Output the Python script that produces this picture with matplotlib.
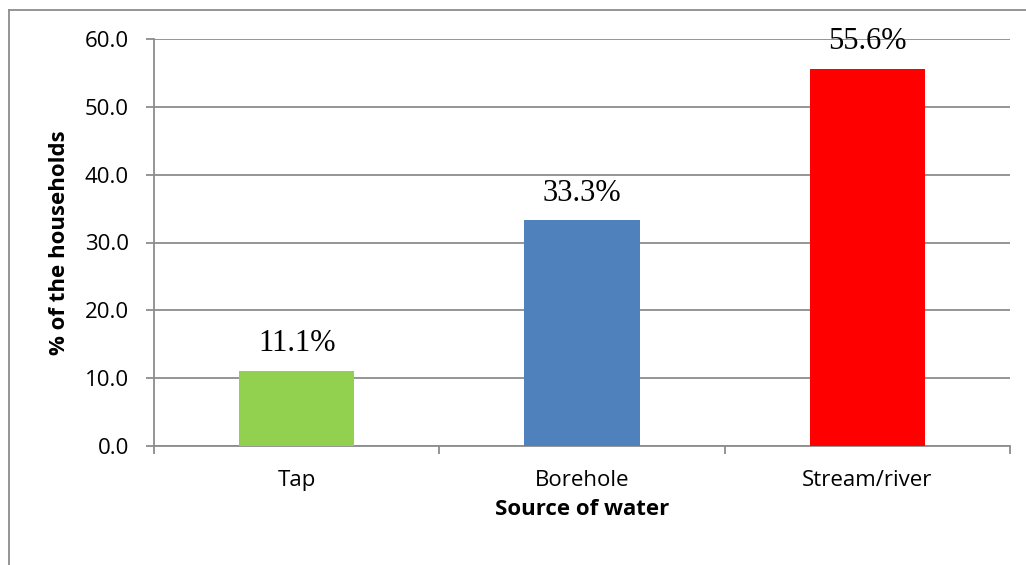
import matplotlib
matplotlib.use("Agg")
import matplotlib.pyplot as plt
from matplotlib.lines import Line2D
from matplotlib.ticker import FixedLocator, NullFormatter

categories = ["Tap", "Borehole", "Stream/river"]
values = [11.1, 33.3, 55.6]
colors = ["#92D050", "#4F81BD", "#FF0000"]
yticks = [0, 10, 20, 30, 40, 50, 60]

GRAY = "#8C8C8C"
SANS = ["Open Sans", "DejaVu Sans"]
SERIF = ["Liberation Serif", "DejaVu Serif"]

fig = plt.figure(figsize=(10.26, 5.65), dpi=100)
W, H = 1026, 565
ax = fig.add_axes([154 / W, 1 - 446 / H, (1010 - 154) / W, (446 - 39) / H])

x = list(range(len(categories)))
ax.bar(x, values, width=0.405, color=colors, zorder=3)

for xi, v in zip(x, values):
    ax.annotate(f"{v:.1f}%", (xi, v), xytext=(0, 9), textcoords="offset points",
                ha="center", va="bottom", fontsize=22, family=SERIF, color="black",
                zorder=4)

ax.set_xlim(-0.5, len(categories) - 0.5)
ax.set_ylim(0, 60)
ax.set_yticks(yticks)
ax.set_yticklabels([f"{t:.1f}" for t in yticks], family=SANS, fontsize=16)
ax.yaxis.grid(True, color=GRAY, linewidth=1.3, zorder=0)

ax.set_xticks(x)
ax.set_xticklabels(categories, family=SANS, fontsize=16)
ax.tick_params(axis="x", which="major", length=0, pad=17)
ax.xaxis.set_minor_locator(FixedLocator([-0.5, 0.5, 1.5, 2.5]))
ax.xaxis.set_minor_formatter(NullFormatter())
ax.tick_params(axis="x", which="minor", length=6, width=1.3, color=GRAY, direction="out")
ax.tick_params(axis="y", length=6, width=1.3, color=GRAY, direction="out", pad=12)

for s in ["top", "right"]:
    ax.spines[s].set_visible(False)
for s in ["left", "bottom"]:
    ax.spines[s].set_color(GRAY)
    ax.spines[s].set_linewidth(1.3)
ax.set_axisbelow(True)

ax.set_xlabel("Source of water", family=SANS, fontsize=16, fontweight="bold", labelpad=6)
ax.set_ylabel("% of the households", family=SANS, fontsize=16, fontweight="bold", labelpad=11)

# chart frame
fig.add_artist(Line2D([8.5 / W, 8.5 / W], [0, 1 - 9.5 / H], color=GRAY, lw=1.3,
                      transform=fig.transFigure))
fig.add_artist(Line2D([8.5 / W, 1], [1 - 9.5 / H, 1 - 9.5 / H], color=GRAY, lw=1.3,
                      transform=fig.transFigure))

fig.savefig("out.png", dpi=100)
